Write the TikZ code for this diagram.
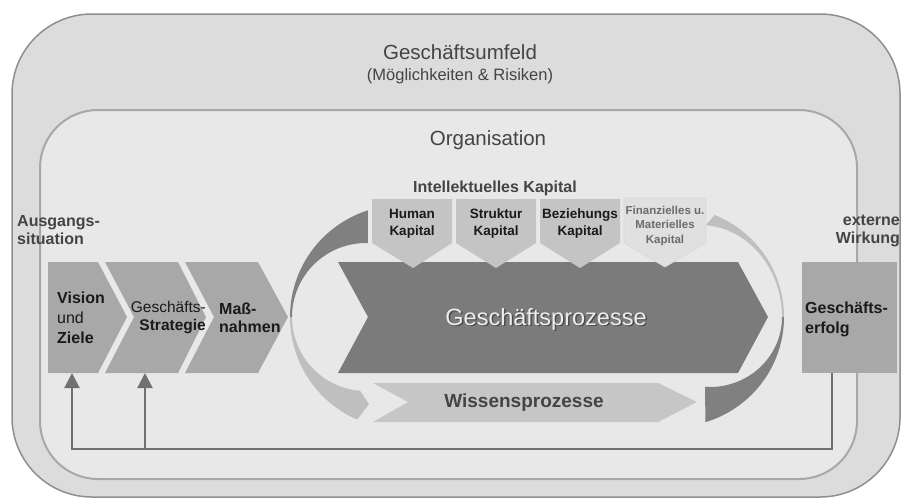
\documentclass[tikz,border=0pt]{standalone}
\usepackage{fontspec}
\setmainfont{Liberation Sans}
\usetikzlibrary{arrows.meta}
\definecolor{outerbg}{HTML}{DCDCDC}
\definecolor{outerln}{HTML}{8F8F8F}
\definecolor{innerbg}{HTML}{E8E8E8}
\definecolor{innerln}{HTML}{A8A8A8}
\definecolor{chevgray}{HTML}{A8A8A8}
\definecolor{bigchev}{HTML}{7B7B7B}
\definecolor{kapgray}{HTML}{C4C4C4}
\definecolor{fingray}{HTML}{E0E0E0}
\definecolor{wisgray}{HTML}{C6C6C6}
\definecolor{arcdark}{HTML}{808080}
\definecolor{arclight}{HTML}{BFBFBF}
\definecolor{fbline}{HTML}{707070}
\definecolor{txtdark}{HTML}{1A1A1A}
\definecolor{txtmid}{HTML}{444444}
\begin{document}
\begin{tikzpicture}[x=1pt,y=-1pt,
  chevshape/.style={fill=chevgray},
  kapshape/.style={fill=kapgray},
  boxtxt/.style={inner sep=0pt, text=txtdark},
  fbconn/.style={draw=fbline, line width=2pt},
  fbarrow/.style={fbconn, -{Triangle[width=15pt,length=15pt]}}]
\useasboundingbox (0,0) rectangle (901,499);
\fill[white] (0,0) rectangle (901,499);
% frames
\draw[draw=outerln, line width=1.5pt, fill=outerbg, rounded corners=80pt] (12,14) rectangle (900,497);
\draw[draw=innerln, line width=2pt, fill=innerbg, rounded corners=58pt] (40,110) rectangle (857,479);
% titles
\node[inner sep=0pt, text=txtmid, font=\fontsize{20.5}{24}\selectfont] (umfeld) at (460,52) {Geschäftsumfeld};
\node[inner sep=0pt, text=txtmid, font=\fontsize{16.5}{20}\selectfont] (chancen) at (460,76) {(Möglichkeiten \& Risiken)};
\node[inner sep=0pt, text=txtmid, font=\fontsize{20.5}{24}\selectfont] (org) at (488,140) {Organisation};
\node[inner sep=0pt, text=txtmid, font=\bfseries\fontsize{16}{19}\selectfont] (intkap) at (495,188) {Intellektuelles Kapital};
\node[inner sep=0pt, text=txtmid, anchor=west, align=left, font=\bfseries\fontsize{16}{18.5}\selectfont] (ausg) at (17,230) {Ausgangs-\\situation};
\node[inner sep=0pt, text=txtmid, anchor=east, align=right, font=\bfseries\fontsize{16}{18.5}\selectfont] (ext) at (900,231) {externe\\Wirkung};
% circular arrows
\fill[arcdark] plot[domain=252.3:180, samples=40, variable=\t] ({402+112*cos(\t)},{317+112*sin(\t)})
  -- plot[domain=180:271.5, samples=40, variable=\t] ({366+74*cos(\t)},{317+74*sin(\t)}) -- cycle;
\fill[arclight] plot[domain=180:113.6, samples=40, variable=\t] ({402+112*cos(\t)},{317+112*sin(\t)})
  -- (369,404) -- plot[domain=94.6:180, samples=40, variable=\t] ({366+74*cos(\t)},{317+74*sin(\t)}) -- cycle;
\fill[arclight] plot[domain=292:360, samples=40, variable=\t] ({673+111*cos(\t)},{317+110*sin(\t)})
  -- plot[domain=360:274, samples=40, variable=\t] ({700+82*cos(\t)},{317+92*sin(\t)}) -- cycle;
\fill[arcdark] plot[domain=0:73, samples=40, variable=\t] ({673+111*cos(\t)},{317+110*sin(\t)})
  -- plot[domain=94:0, samples=40, variable=\t] ({710+72*cos(\t)},{317+70*sin(\t)}) -- cycle;
% left chevrons
\fill[chevshape] (48,262) -- (98,262) -- (127,317) -- (98,373) -- (48,373) -- cycle;
\fill[chevshape] (105,262) -- (178,262) -- (206,317) -- (178,373) -- (105,373) -- (134,317) -- cycle;
\fill[chevshape] (185,262) -- (258,262) -- (288,317) -- (258,373) -- (185,373) -- (214,317) -- cycle;
\node[boxtxt, anchor=west, align=left, font=\fontsize{16}{20}\selectfont] (vision) at (57,318) {\textbf{Vision}\\und\\\textbf{Ziele}};
\node[boxtxt, anchor=east, align=right, font=\fontsize{15.5}{18}\selectfont] (strat) at (206,318) {Geschäfts-\\\textbf{Strategie}};
\node[boxtxt, anchor=west, align=left, font=\bfseries\fontsize{16}{18}\selectfont] (mass) at (219,318) {Maß-\\nahmen};
% Wissensprozesse
\fill[wisgray] (373,383) -- (658,383) -- (697,402) -- (658,422) -- (373,422) -- (408,402) -- cycle;
\node[inner sep=0pt, text=txtmid, font=\bfseries\fontsize{19}{22}\selectfont] (wissen) at (524,403) {Wissensprozesse};
% Geschäftsprozesse
\fill[bigchev] (338,262) -- (738,262) -- (768,317) -- (738,373) -- (338,373) -- (368,317) -- cycle;
\node[inner sep=0pt, text=black!70, font=\fontsize{23.5}{26}\selectfont] (gpshadow) at (547.5,320.5) {Geschäftsprozesse};
\node[inner sep=0pt, text=white!93!black, font=\fontsize{23.5}{26}\selectfont] (gp) at (546,319) {Geschäftsprozesse};
% Kapital boxes
\fill[kapshape] (372,199) -- (452,199) -- (452,243) -- (413,268) -- (372,243) -- cycle;
\fill[kapshape] (456,199) -- (536,199) -- (536,243) -- (496,268) -- (456,243) -- cycle;
\fill[kapshape] (540,199) -- (620,199) -- (620,243) -- (580,268) -- (540,243) -- cycle;
\filldraw[fill=fingray, draw=white!85!black, line width=0.6pt] (624,198) -- (706,198) -- (706,243) -- (665,267) -- (624,243) -- cycle;
\node[boxtxt, align=center, font=\bfseries\fontsize{13.5}{17}\selectfont] (human) at (412,224) {Human\\Kapital};
\node[boxtxt, align=center, font=\bfseries\fontsize{13.5}{17}\selectfont] (struktur) at (496,224) {Struktur\\Kapital};
\node[boxtxt, align=center, font=\bfseries\fontsize{13.5}{17}\selectfont] (bez) at (580,224) {Beziehungs\\Kapital};
\node[inner sep=0pt, text=black!58, align=center, font=\bfseries\fontsize{11.5}{14.5}\selectfont] (fin) at (665,226) {Finanzielles u.\\Materielles\\Kapital};
% Geschäftserfolg
\node[fill=chevgray, inner sep=0pt, minimum width=95pt, minimum height=111pt, anchor=north west] (erfolg) at (802,262) {};
\node[boxtxt, anchor=west, align=left, font=\bfseries\fontsize{16}{20}\selectfont] (erfolgtxt) at (805,319) {Geschäfts-\\erfolg};
% feedback connectors
\coordinate (fbY) at (0,449);
\coordinate (visB) at (72,373);
\coordinate (strB) at (145,373);
\coordinate (erfB) at (832,373);
\draw[fbarrow] (erfB) -- (erfB |- fbY) -- (visB |- fbY) -- (visB);
\draw[fbarrow] (strB |- fbY) -- (strB);
\end{tikzpicture}
\end{document}
